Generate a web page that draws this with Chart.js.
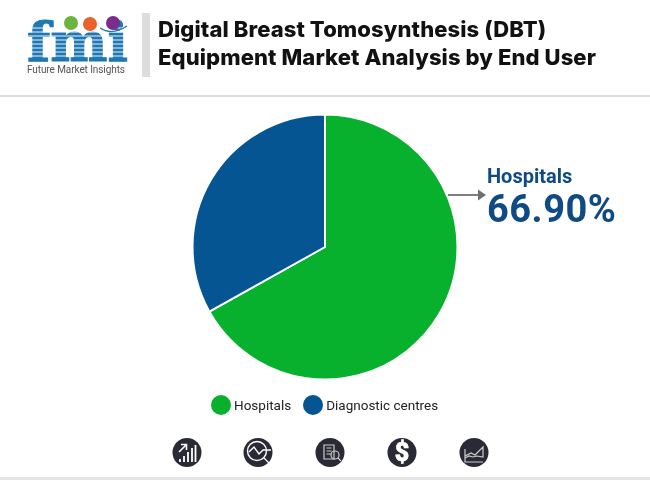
<!DOCTYPE html>
<html>
<head>
<meta charset="utf-8">
<title>DBT Equipment Market Analysis by End User</title>
<script src="https://cdn.jsdelivr.net/npm/chart.js@4"></script>
<style>
  html, body { margin: 0; padding: 0; background: #fff; }
  #page { position: relative; width: 650px; height: 480px; overflow: hidden; font-family: Roboto, sans-serif; }
  #page > * { position: absolute; }
  #chart { left: 0; top: 0; }
  #title { left: 158px; top: 15px; font-family: Inter, sans-serif; font-size: 22px; line-height: 28px; font-weight: 800; letter-spacing: 0.1px; color: #111; white-space: nowrap; }
  #bar { left: 142px; top: 13px; width: 8px; height: 64px; background: #ddd; }
  #rule { left: 0; top: 95px; width: 650px; height: 2px; background: #ddd; }
  #foot { left: 0; top: 477px; width: 650px; height: 3px; background: #e4e4e4; }
  #calloutName { left: 487px; top: 164px; font-size: 20px; font-weight: 700; color: #0f4a85; }
  #calloutValue { left: 487px; top: 187px; font-size: 38px; font-weight: 700; color: #0f4a85; letter-spacing: 0.5px; }
  #legend { left: 211px; top: 395px; display: flex; font-size: 13.5px; color: #222; line-height: 20px; white-space: nowrap; }
  #legend span.dot { display: inline-block; width: 20px; height: 20px; border-radius: 50%; margin-right: 3px; }
  #legend div { display: flex; margin-right: 12px; }
  #logo { left: 0; top: 0; }
  #icons { left: 0; top: 430px; }
</style>
</head>
<body>
<div id="page">
  <canvas id="chart" width="650" height="480"></canvas>

  <svg id="logo" width="140" height="80" viewBox="0 0 140 80">
    <text x="27" y="61" font-family="'DejaVu Serif', serif" font-weight="700" font-size="55" fill="#1f78b4" stroke="#1f78b4" stroke-width="1" textLength="101" lengthAdjust="spacingAndGlyphs">fmi</text>
    <g stroke="#fff" stroke-width="0.9">
      <line x1="24" y1="28" x2="130" y2="28"/><line x1="24" y1="32" x2="130" y2="32"/>
      <line x1="24" y1="36" x2="130" y2="36"/><line x1="24" y1="40" x2="130" y2="40"/>
      <line x1="24" y1="44" x2="130" y2="44"/><line x1="24" y1="48" x2="130" y2="48"/>
      <line x1="24" y1="52" x2="130" y2="52"/><line x1="24" y1="56" x2="130" y2="56"/>
    </g>
    <circle cx="71" cy="23" r="7" fill="#6cb33f"/>
    <circle cx="90" cy="24" r="7" fill="#e8622a"/>
    <circle cx="113" cy="23" r="7" fill="#7b2d8b"/>
    <path d="M100 28 Q112 36 127 26" fill="none" stroke="#1f78b4" stroke-width="1.2"/>
    <text x="27" y="73" font-family="Roboto, sans-serif" font-size="10" fill="#555" textLength="98">Future Market Insights</text>
  </svg>

  <div id="bar"></div>
  <div id="title">Digital Breast Tomosynthesis (DBT)<br>Equipment Market Analysis by End User</div>
  <div id="rule"></div>

  <svg id="arrow" style="left:445px;top:185px" width="45" height="20">
    <line x1="3" y1="10" x2="35" y2="10" stroke="#707070" stroke-width="1.8"/>
    <path d="M33 4.5 L41 10 L33 15.5 Z" fill="#707070"/>
  </svg>
  <div id="calloutName"></div>
  <div id="calloutValue"></div>

  <div id="legend"></div>

  <svg id="icons" width="650" height="46" fill="none" stroke="#fff" stroke-width="1.2">
    <g fill="#2a2a36" stroke="none">
      <circle cx="187" cy="22.5" r="14.5"/><circle cx="258" cy="22.5" r="14.5"/><circle cx="330" cy="22.5" r="14.5"/>
      <circle cx="402" cy="22.5" r="14.5"/><circle cx="474" cy="22.5" r="14.5"/>
    </g>
    <path d="M180 29v3M184 26v6M188 22v10M192 18v14M195.500 15v17" stroke-width="1.8"/>
    <path d="M179 22l7-7M181 14.500h5.500v5.500" stroke-width="1.6"/>
    <circle cx="257" cy="21" r="9.500" stroke-width="1.4"/>
    <path d="M249 22l5-5 5 7 4-4h8M264 28l7 7" stroke-width="1.4"/>
    <path d="M324 15h10v14h-10zM326.500 18h5M326.500 21h5M326.500 24h5" stroke="#ccc"/>
    <circle cx="335" cy="25" r="4" stroke="#ccc"/>
    <path d="M338 28l3 3" stroke="#ccc"/>
    <text x="402" y="31" font-family="Roboto, sans-serif" font-weight="900" font-size="25" fill="#fff" stroke="#fff" stroke-width="0.6" text-anchor="middle">$</text>
    <path d="M465 19v13h18M465 26l6-3 4 2 8-8v10l-6-1-4 1-4-1-4 2" stroke="#ccc"/>
  </svg>
  <div id="foot"></div>
</div>

<script>
const labels = ["Hospitals", "Diagnostic centres"];
const shares = [66.9, 33.1];
const colors = ["#07b02d", "#045591"];

const legend = document.getElementById("legend");
labels.forEach((name, i) => {
  const item = document.createElement("div");
  const dot = document.createElement("span");
  dot.className = "dot";
  dot.style.background = colors[i];
  item.appendChild(dot);
  item.appendChild(document.createTextNode(name));
  legend.appendChild(item);
});

document.getElementById("calloutName").textContent = labels[0];
document.getElementById("calloutValue").textContent = shares[0].toFixed(2) + "%";

new Chart(document.getElementById("chart"), {
  type: "pie",
  data: {
    labels: labels,
    datasets: [{
      data: shares,
      backgroundColor: colors,
      borderColor: "#fff",
      borderWidth: 2
    }]
  },
  options: {
    responsive: false,
    animation: false,
    // chart area box puts the pie at its place on the page
    layout: { padding: { left: 191.5, right: 191.5, top: 113.5, bottom: 99.5 } },
    plugins: { legend: { display: false }, tooltip: { enabled: false } }
  }
});
</script>
</body>
</html>
